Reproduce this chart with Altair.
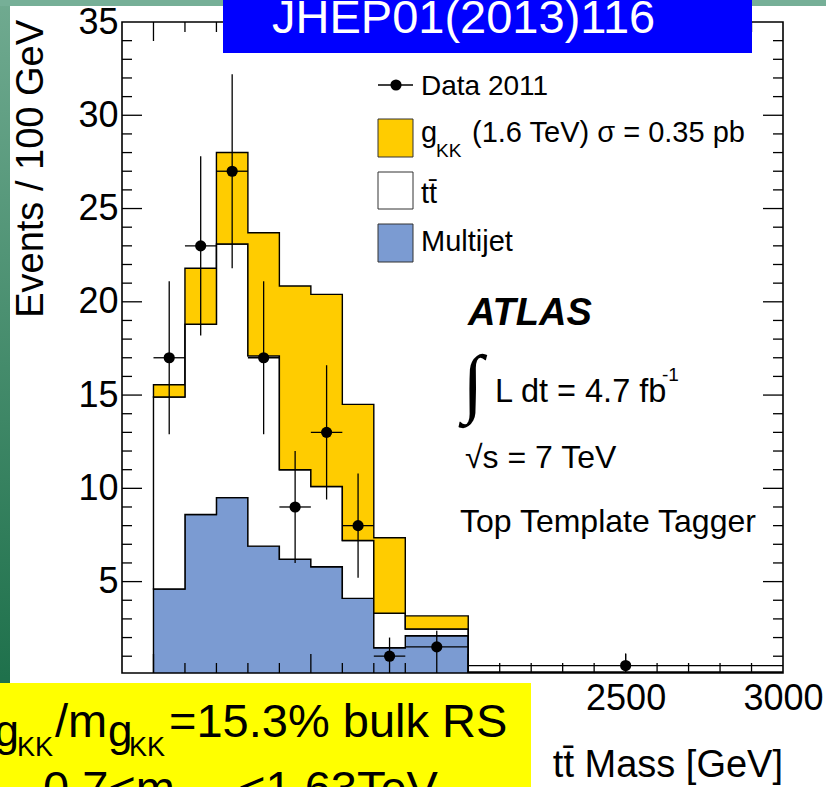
import altair as alt
import pandas as pd

# ---------------------------------------------------------------
# ttbar invariant mass spectrum, Top Template Tagger selection
# ---------------------------------------------------------------

# bin edges (GeV)
bin_lo = [1000, 1100, 1200, 1300, 1400, 1500, 1600, 1700, 1800, 2000]
bin_hi = [1100, 1200, 1300, 1400, 1500, 1600, 1700, 1800, 2000, 3000]

# expected events / 100 GeV for each process
multijet = [4.6, 8.6, 9.5, 6.9, 6.2, 5.8, 4.1, 1.45, 2.1, 0.05]
ttbar = [10.3, 10.2, 13.6, 10.2, 4.8, 4.3, 3.1, 1.85, 0.36, 0.07]
gkk = [0.65, 3.0, 4.9, 6.6, 9.85, 10.3, 7.3, 4.05, 0.7, 0.03]

# observed data 2011 and statistical uncertainty
data_val = [17, 23, 27, 17, 9, 13, 8, 1, 1.5, 0.5]
data_err = [4.1, 4.8, 5.2, 4.1, 3.0, 3.6, 2.8, 1.0, 0.87, 0.65]

# axis labels and tick marks
x_labels = [1000, 1500, 2000, 2500, 3000]
y_labels = [5, 10, 15, 20, 25, 30, 35]
x_major = [1000, 1500, 2000, 2500]
x_minor = [m for m in range(1100, 3000, 100) if m % 500 != 0]
y_major = [5, 10, 15, 20, 25, 30]
y_minor = [v for v in range(1, 35) if v % 5 != 0]

process_names = ["Multijet", "ttbar", "gKK"]
process_colors = ["#7b9bd2", "#ffffff", "#ffcc00"]

FONT = "Liberation Sans"
W, H = 661, 651
PL, PT, PR, PB = 122, 22, 43, 114

# ---------------- tables ----------------
edges = bin_lo + [bin_hi[-1]]
rows = []
for rank, (name, vals) in enumerate(zip(process_names, [multijet, ttbar, gkk])):
    for e, v in zip(edges, vals + [vals[-1]]):
        rows.append({"m": e, "events": v, "process": name, "rank": rank})
hist_df = pd.DataFrame(rows)

data_df = pd.DataFrame({"lo": bin_lo, "hi": bin_hi, "val": data_val, "err": data_err})
data_df["center"] = (data_df["lo"] + data_df["hi"]) / 2
data_df["ylo"] = data_df["val"] - data_df["err"]
data_df["yhi"] = data_df["val"] + data_df["err"]

xscale = alt.Scale(domain=[900, 3000], nice=False, zero=False)
yscale = alt.Scale(domain=[0.1, 35], nice=False, zero=False)
xaxis = alt.Axis(values=x_labels, format="d", ticks=False, domain=False, grid=False,
                 labelFont=FONT, labelFontSize=36, labelColor="black", labelPadding=8,
                 labelFlush=False, labelOverlap=False, title=None)
yaxis = alt.Axis(values=y_labels, format="d", ticks=False, domain=False, grid=False,
                 labelFont=FONT, labelFontSize=36, labelColor="black", labelPadding=4,
                 labelFlush=False, labelOverlap=False, title=None)


def X(field, **kw):
    return alt.X(field, type="quantitative", scale=xscale, axis=xaxis, **kw)


def Y(field, **kw):
    return alt.Y(field, type="quantitative", scale=yscale, axis=yaxis, **kw)


ONE = alt.Data(values=[{"k": 1}])


def box(x0, y0, x1, y1, **kw):
    return alt.Chart(ONE).mark_rect(**kw).encode(
        x=alt.value(x0 - PL), x2=alt.value(x1 - PL),
        y=alt.value(y0 - PT), y2=alt.value(y1 - PT))


def txt(s, px, py, size, align="left", **kw):
    opts = dict(font=FONT, color="black", baseline="alphabetic")
    opts.update(kw)
    return alt.Chart(ONE).mark_text(text=s, fontSize=size, align=align, **opts).encode(
        x=alt.value(px - PL), y=alt.value(py - PT))


# ---------------- slide background strips ----------------
green_grad = alt.Gradient(
    gradient="linear", x1=0, x2=0, y1=0, y2=1,
    stops=[alt.GradientStop(offset=0, color="#70aa90"),
           alt.GradientStop(offset=1, color="#126841")])
left_strip = box(0, 0, 10, 787, fill=green_grad)
top_strip = box(0, 0, 826, 6, fill="#76af97")

# ---------------- stacked histogram ----------------
hist = alt.Chart(hist_df).mark_area(
    interpolate="step-after", stroke="black", strokeWidth=1.4, clip=True
).encode(
    x=X("m"),
    y=Y("events", stack="zero"),
    color=alt.Color("process:N", scale=alt.Scale(domain=process_names, range=process_colors),
                    legend=None),
    order=alt.Order("rank:Q"),
)

# ---------------- data with error bars ----------------
vbars = alt.Chart(data_df).mark_rule(color="black", strokeWidth=1.3, clip=True).encode(
    x=X("center"), y=Y("ylo"), y2="yhi")
hbars = alt.Chart(data_df).mark_rule(color="black", strokeWidth=1.3, clip=True).encode(
    x=X("lo"), x2="hi", y=Y("val"))
points = alt.Chart(data_df).mark_circle(color="black", opacity=1, size=125, clip=True).encode(
    x=X("center"), y=Y("val"))

# ---------------- frame and inward ticks ----------------
frame = alt.Chart(ONE).mark_rect(fillOpacity=0, stroke="black", strokeWidth=1.6).encode(
    x=alt.value(0), x2=alt.value(W), y=alt.value(0), y2=alt.value(H))

xmaj_df = pd.DataFrame({"tx": x_major})
xmin_df = pd.DataFrame({"tx": x_minor})
ymaj_df = pd.DataFrame({"ty": y_major})
ymin_df = pd.DataFrame({"ty": y_minor})


def xticks(df, length, y_pix):
    return alt.Chart(df).mark_tick(orient="vertical", size=length, thickness=1.3,
                                   color="black", opacity=1).encode(
        x=X("tx"), y=alt.value(y_pix))


def yticks(df, length, x_pix):
    return alt.Chart(df).mark_tick(orient="horizontal", size=length, thickness=1.3,
                                   color="black", opacity=1).encode(
        y=Y("ty"), x=alt.value(x_pix))


ticks = [
    xticks(xmaj_df, 19, H - 9.5), xticks(xmin_df, 10, H - 5),
    xticks(xmaj_df, 19, 9.5), xticks(xmin_df, 10, 5),
    yticks(ymaj_df, 20, 10), yticks(ymin_df, 10, 5),
    yticks(ymaj_df, 20, W - 10), yticks(ymin_df, 10, W - 5),
]

# ---------------- axis titles ----------------
ytitle = txt("Events / 100 GeV", 43, 20, 38, align="right", angle=270)
xtitle = txt("tt\u0304 Mass [GeV]", 783, 777, 38, align="right")

# ---------------- legend ----------------
leg_line = alt.Chart(ONE).mark_rule(color="black", strokeWidth=1.3).encode(
    x=alt.value(378 - PL), x2=alt.value(413 - PL), y=alt.value(85 - PT))
leg_dot = alt.Chart(ONE).mark_circle(color="black", opacity=1, size=125).encode(
    x=alt.value(396 - PL), y=alt.value(85 - PT))
legend = [
    leg_line, leg_dot,
    txt("Data 2011", 421, 95, 28),
    box(378, 119, 413, 157, fill="#ffcc00", stroke="#333333", strokeWidth=1),
    txt("g", 421, 142, 29),
    txt("KK", 436, 157, 19),
    txt("(1.6 TeV) \u03c3 = 0.35 pb", 472, 142, 29),
    box(378, 172, 413, 209, fill="#ffffff", stroke="#333333", strokeWidth=1),
    txt("tt\u0304", 421, 203, 29),
    box(378, 224, 413, 262, fill="#7b9bd2", stroke="#333333", strokeWidth=1),
    txt("Multijet", 421, 251, 29),
]

# ---------------- ATLAS labels ----------------
atlas = [
    txt("ATLAS", 468, 325, 38, fontStyle="italic", fontWeight="bold"),
    txt("\u222b", 473, 385, 76, align="center", baseline="middle", font="Liberation Serif"),
    txt("L dt = 4.7 fb", 495, 402, 32.5),
    txt("-1", 662, 381, 19),
    txt("\u221as = 7 TeV", 465, 468, 32),
    txt("Top Template Tagger", 460, 532, 32),
]

# ---------------- reference banner ----------------
banner = [
    box(223, 0, 752, 53, fill="#0000ff"),
    txt("JHEP01(2013)116", 272, 33, 47, color="white"),
]

# ---------------- model note ----------------
note = [
    box(0, 683, 531, 787, fill="#ffff00"),
    txt("\u0393", -8, 737, 47, align="right"),
    txt("g", 19, 746, 44, align="right"),
    txt("KK", 17, 756, 27),
    txt("/m", 55, 737, 47),
    txt("g", 108, 746, 44),
    txt("KK", 129, 756, 27),
    txt("=15.3% bulk RS", 169, 737, 47),
    txt("0.7<m", 43, 804, 47),
    txt("g", 175, 813, 44),
    txt("KK", 197, 823, 27),
    txt("<1.63TeV", 238, 804, 47),
]

layers = [left_strip, top_strip, hist, vbars, hbars, points, frame] + ticks + \
    [ytitle, xtitle] + legend + atlas + banner + note

chart = alt.layer(*layers).properties(
    width=W, height=H,
    padding={"left": PL, "top": PT, "right": PR, "bottom": PB},
    autosize=alt.AutoSizeParams(type="none"),
    background="white",
).configure_view(stroke=None)

chart.save("out.html", embed_options={"renderer": "svg", "actions": False})
